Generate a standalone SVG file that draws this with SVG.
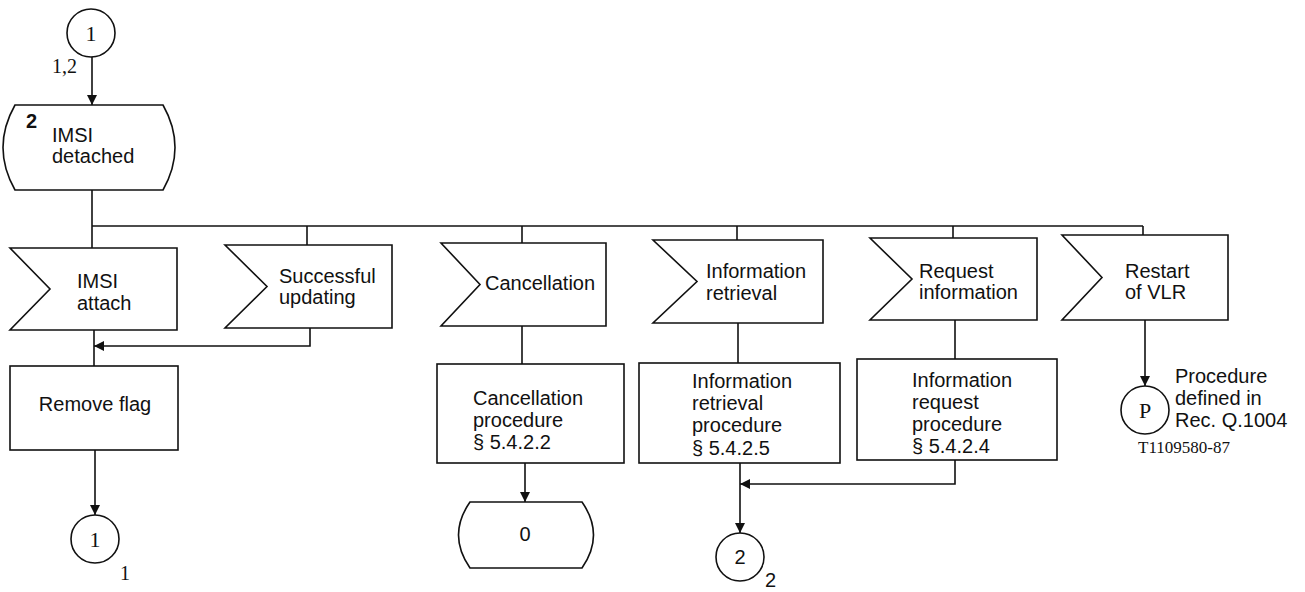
<svg xmlns="http://www.w3.org/2000/svg" width="1305" height="592" viewBox="0 0 1305 592">
<style>
.s{fill:#fff;stroke:#111;stroke-width:1.6}
.c{fill:none;stroke:#111;stroke-width:1.6}
.t{font-family:"Liberation Sans",Arial,sans-serif;font-size:20px;fill:#111}
.sr{font-family:"Liberation Serif","Times New Roman",serif;fill:#111}
</style>
<defs>
<marker id="ah" viewBox="0 0 10 10" refX="10" refY="5" markerWidth="10" markerHeight="10" markerUnits="userSpaceOnUse" orient="auto">
<path d="M0,0 L10,5 L0,10 Z" fill="#111"/>
</marker>
</defs>
<rect width="1305" height="592" fill="#fff"/>
<g id="connectors">
<line class="c" x1="92" y1="57" x2="92" y2="105" marker-end="url(#ah)"/>
<line class="c" x1="92" y1="190" x2="92" y2="248"/>
<line class="c" x1="92" y1="226" x2="1143" y2="226"/>
<line class="c" x1="307" y1="226" x2="307" y2="245"/>
<line class="c" x1="522" y1="226" x2="522" y2="243"/>
<line class="c" x1="737" y1="226" x2="737" y2="240"/>
<line class="c" x1="953" y1="226" x2="953" y2="238"/>
<line class="c" x1="1143" y1="226" x2="1143" y2="235"/>
<line class="c" x1="94" y1="330" x2="94" y2="366"/>
<polyline class="c" points="310,328 310,346 94,346" marker-end="url(#ah)"/>
<line class="c" x1="95" y1="450" x2="95" y2="515" marker-end="url(#ah)"/>
<line class="c" x1="522" y1="326" x2="522" y2="364"/>
<line class="c" x1="525" y1="463" x2="525" y2="502" marker-end="url(#ah)"/>
<line class="c" x1="738" y1="323" x2="738" y2="363"/>
<line class="c" x1="740" y1="463" x2="740" y2="533" marker-end="url(#ah)"/>
<line class="c" x1="955" y1="320" x2="955" y2="359"/>
<polyline class="c" points="955,460 955,484 740,484" marker-end="url(#ah)"/>
<line class="c" x1="1145" y1="320" x2="1145" y2="386" marker-end="url(#ah)"/>
</g>
<g id="conn-top">
<circle class="s" cx="91" cy="33" r="24"/>
<text class="sr" x="91" y="41" font-size="22" text-anchor="middle">1</text>
<text class="sr" x="52" y="73" font-size="20">1,2</text>
</g>
<g id="state-imsi-detached">
<path class="s" d="M15,105 L163,105 Q187,147.5 163,190 L15,190 Q-9,147.5 15,105 Z"/>
<text class="t" x="26" y="128" font-size="15" font-weight="bold">2</text>
<text class="t" x="52" y="142">IMSI</text>
<text class="t" x="52" y="163">detached</text>
</g>
<g id="sig-imsi-attach">
<path class="s" d="M10,248 L177,248 L177,330 L10,330 L50,289 Z"/>
<text class="t" x="77" y="288">IMSI</text>
<text class="t" x="77" y="310">attach</text>
</g>
<g id="sig-successful-updating">
<path class="s" d="M225,245 L392,245 L392,328 L225,328 L267,286.5 Z"/>
<text class="t" x="279" y="283">Successful</text>
<text class="t" x="279" y="304">updating</text>
</g>
<g id="sig-cancellation">
<path class="s" d="M441,243 L606,243 L606,326 L441,326 L480,284.5 Z"/>
<text class="t" x="485" y="290">Cancellation</text>
</g>
<g id="sig-information-retrieval">
<path class="s" d="M653,240 L823,240 L823,323 L653,323 L697,281.5 Z"/>
<text class="t" x="706" y="278">Information</text>
<text class="t" x="706" y="300">retrieval</text>
</g>
<g id="sig-request-information">
<path class="s" d="M870,238 L1037,238 L1037,320 L870,320 L912,279 Z"/>
<text class="t" x="919" y="278">Request</text>
<text class="t" x="919" y="299">information</text>
</g>
<g id="sig-restart-vlr">
<path class="s" d="M1062,235 L1228,235 L1228,320 L1062,320 L1102,277.5 Z"/>
<text class="t" x="1125" y="278">Restart</text>
<text class="t" x="1125" y="299">of VLR</text>
</g>
<g id="task-remove-flag">
<rect class="s" x="10" y="366" width="168" height="84"/>
<text class="t" x="95" y="411" text-anchor="middle">Remove flag</text>
</g>
<g id="conn-1-bottom">
<circle class="s" cx="95" cy="539" r="24"/>
<text class="sr" x="95" y="547" font-size="22" text-anchor="middle">1</text>
<text class="sr" x="120" y="580" font-size="20">1</text>
</g>
<g id="task-cancellation-procedure">
<rect class="s" x="437" y="364" width="187" height="99"/>
<text class="t" x="473" y="405">Cancellation</text>
<text class="t" x="473" y="427">procedure</text>
<text class="t" x="473" y="449">§ 5.4.2.2</text>
</g>
<g id="state-0">
<path class="s" d="M470,502 L582,502 Q605,535 582,568 L470,568 Q447,535 470,502 Z"/>
<text class="t" x="525" y="541" font-size="17" text-anchor="middle">0</text>
</g>
<g id="task-information-retrieval-procedure">
<rect class="s" x="639" y="363" width="201" height="100"/>
<text class="t" x="692" y="388">Information</text>
<text class="t" x="692" y="410">retrieval</text>
<text class="t" x="692" y="432">procedure</text>
<text class="t" x="692" y="455">§ 5.4.2.5</text>
</g>
<g id="task-information-request-procedure">
<rect class="s" x="857" y="359" width="200" height="101"/>
<text class="t" x="912" y="387">Information</text>
<text class="t" x="912" y="409">request</text>
<text class="t" x="912" y="431">procedure</text>
<text class="t" x="912" y="453">§ 5.4.2.4</text>
</g>
<g id="conn-2">
<circle class="s" cx="740" cy="557" r="24"/>
<text class="t" x="740" y="564" font-size="18" text-anchor="middle">2</text>
<text class="t" x="765" y="587" font-size="16">2</text>
</g>
<g id="conn-p">
<circle class="s" cx="1145" cy="410" r="24"/>
<text class="sr" x="1145" y="418" font-size="22" text-anchor="middle">P</text>
<text class="t" x="1175" y="383">Procedure</text>
<text class="t" x="1175" y="405">defined in</text>
<text class="t" x="1175" y="427">Rec. Q.1004</text>
</g>
<text class="sr" x="1138" y="453" font-size="17">T1109580-87</text>
</svg>
